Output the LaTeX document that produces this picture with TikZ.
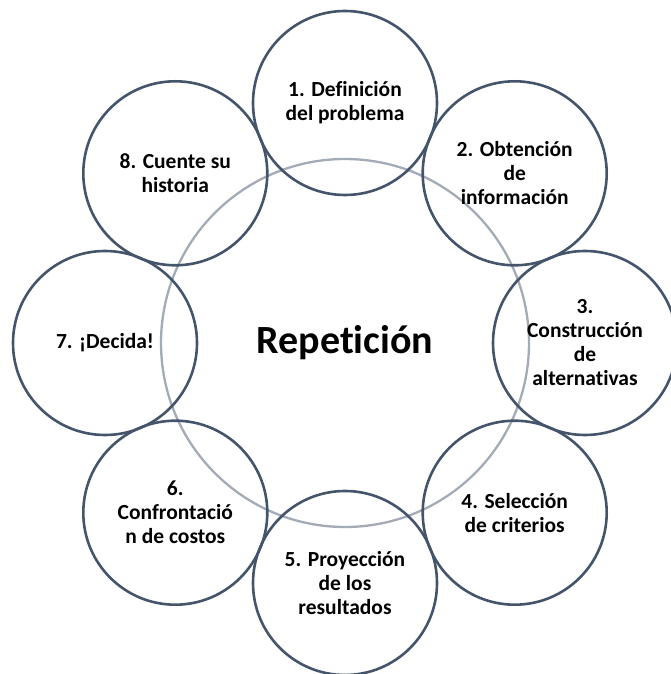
\documentclass[tikz,border=0pt]{standalone}
\usepackage{fontspec}
\setmainfont{Carlito}[Ligatures=NoCommon]
\definecolor{ringdark}{HTML}{44546A}
\definecolor{ringgray}{HTML}{A3ABB6}
\begin{document}
\begin{tikzpicture}[x=1pt,y=1pt,
  stage/.style={circle,draw=ringdark,line width=2.6pt,minimum size=184pt,inner sep=0pt,
    align=center,font=\fontsize{21.5}{24}\selectfont\bfseries,text=black},
  hub/.style={circle,draw=ringgray,line width=2.3pt,minimum size=368pt,inner sep=0pt,
    font=\fontsize{40}{44}\selectfont\bfseries,text=black}]
\useasboundingbox (0,0) rectangle (670,674);
\node[hub] (hub) at (345,331) {Repetición};
\node[stage] (s1) at (345,571) {1. Definición\\del problema};
\node[stage] (s2) at (514.7,500.7) {2. Obtención\\de\\información};
\node[stage] (s3) at (585,331) {3.\\Construcción\\de\\alternativas};
\node[stage] (s4) at (514.7,161.3) {4. Selección\\de criterios};
\node[stage] (s5) at (345,91) {5. Proyección\\de los\\resultados};
\node[stage] (s6) at (175.3,161.3) {6.\\Confrontació\\n de costos};
\node[stage] (s7) at (105,331) {7. ¡Decida!};
\node[stage] (s8) at (175.3,500.7) {8. Cuente su\\historia};
\end{tikzpicture}
\end{document}
